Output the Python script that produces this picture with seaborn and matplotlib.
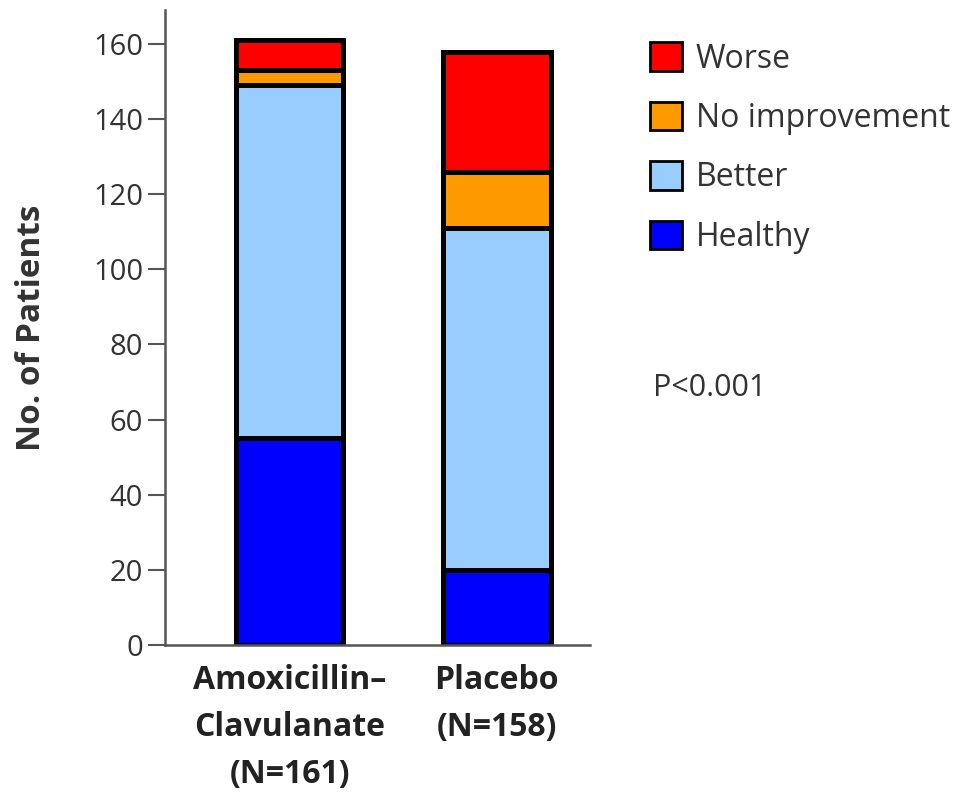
import numpy as np
import pandas as pd
import seaborn as sns
from matplotlib import pyplot as plt
from matplotlib.patches import Patch

# data
groups = ['Amoxicillin\u2013\nClavulanate\n(N=161)', 'Placebo\n(N=158)']
categories = ['Healthy', 'Better', 'No improvement', 'Worse']
healthy = [55, 20]
better = [94, 91]
no_improvement = [4, 15]
worse = [8, 32]
colors = {'Healthy': '#0000ff', 'Better': '#99ccff',
          'No improvement': '#ff9900', 'Worse': '#ff0000'}

sns.set_style('ticks')
plt.rcParams['font.family'] = ['Open Sans', 'DejaVu Sans']

df = pd.DataFrame({'group': groups, 'Healthy': healthy, 'Better': better,
                   'No improvement': no_improvement, 'Worse': worse})
cum = df[categories].cumsum(axis=1)
cum['group'] = df['group']

fig = plt.figure(figsize=(9.61, 7.99), dpi=100)
ax = fig.add_axes([0.172, 0.193, 0.442, 0.794])

# stacked bars: draw cumulative totals from the top category down
for cat in categories[::-1]:
    sns.barplot(data=cum, x='group', y=cat, color=colors[cat], ax=ax,
                width=0.52, edgecolor='black', linewidth=3.6, saturation=1)

ax.set_xlim(-0.6, 1.45)
ax.set_ylim(0, 169)
ax.set_yticks(np.arange(0, 161, 20))
ax.set_xlabel('')
ax.set_ylabel('No. of Patients', fontsize=24, fontweight='bold', color='#333333')
ax.yaxis.set_label_coords(-0.275, 0.5)
ax.tick_params(axis='y', labelsize=21, colors='#555555', labelcolor='#333333',
               length=12, width=1.5, pad=4)
ax.tick_params(axis='x', length=0, labelsize=23, labelcolor='#222222', pad=14)
for lab in ax.get_xticklabels():
    lab.set_fontweight('bold')
    lab.set_linespacing(1.55)
for s in ['top', 'right']:
    ax.spines[s].set_visible(False)
for s in ['left', 'bottom']:
    ax.spines[s].set_color('#555555')
    ax.spines[s].set_linewidth(1.8)

handles = [Patch(facecolor=colors[c], edgecolor='black', linewidth=2, label=c)
           for c in categories[::-1]]
fig.legend(handles=handles, loc='upper left', bbox_to_anchor=(0.676, 0.947),
           frameon=False, fontsize=23, handlelength=1.0, handleheight=1.0,
           labelspacing=0.82, handletextpad=0.45, borderpad=0, borderaxespad=0,
           labelcolor='#333333')

fig.text(0.68, 0.515, 'P<0.001', fontsize=22, color='#333333', va='center')

plt.savefig('out.png', dpi=100)
